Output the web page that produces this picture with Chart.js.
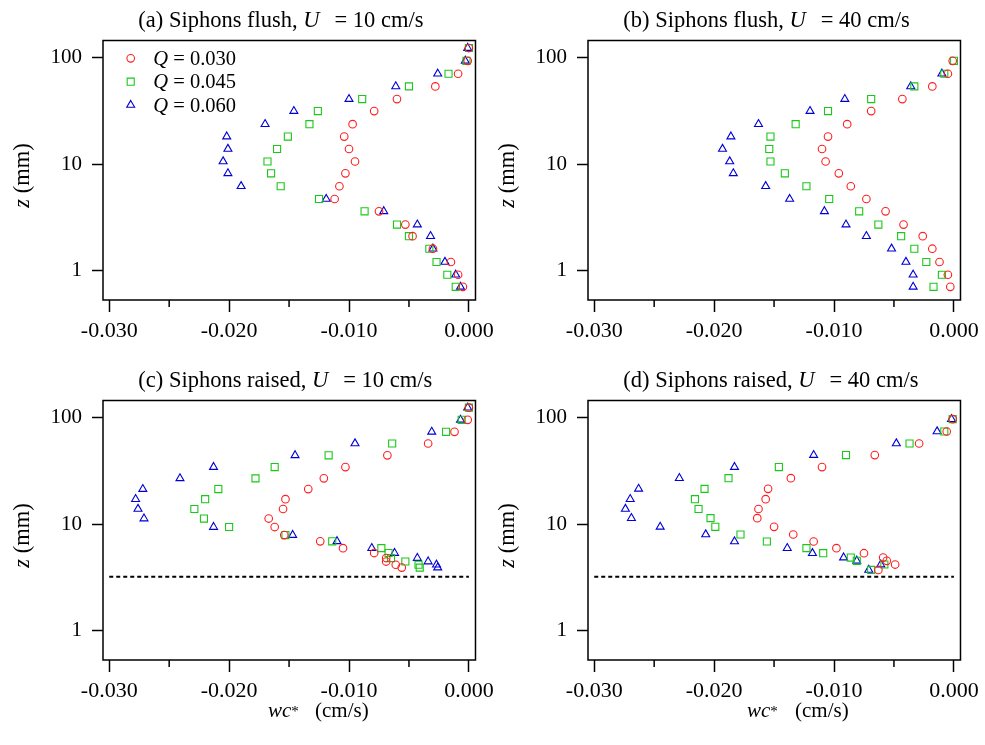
<!DOCTYPE html>
<html><head><meta charset="utf-8">
<script src="https://cdn.jsdelivr.net/npm/chart.js@4.4.1/dist/chart.umd.min.js"></script>
<style>
html,body{margin:0;padding:0;background:#fff;width:985px;height:745px;overflow:hidden}
canvas{position:absolute;display:block}
</style></head><body>
<canvas id="ca" width="500" height="360" style="left:0;top:0"></canvas>
<canvas id="cb" width="500" height="360" style="left:485px;top:0"></canvas>
<canvas id="cc" width="500" height="385" style="left:0;top:360px"></canvas>
<canvas id="cd" width="500" height="385" style="left:485px;top:360px"></canvas>
<script>
// ---------- data ----------
const qLabels = ['0.030', '0.045', '0.060'];
const xTickValues = [-0.030, -0.020, -0.010, 0.000];
const xTickLabels = ['-0.030', '-0.020', '-0.010', '0.000'];
const xMinorValues = [-0.025, -0.015, -0.005];
const yTickValues = [1, 10, 100];
const yTickLabels = ['1', '10', '100'];
const panelTitles = [
  ['(a) Siphons flush, ', 'U', '= 10 cm/s'],
  ['(b) Siphons flush, ', 'U', '= 40 cm/s'],
  ['(c) Siphons raised, ', 'U', '= 10 cm/s'],
  ['(d) Siphons raised, ', 'U', '= 40 cm/s']
];
const dashZ = 3.2;
const dashX = [-0.030, 0.000];

// (a) siphons flush, U = 10 cm/s
const zA = [124, 94, 71, 54, 41, 31.6, 23.8, 18.2, 13.9, 10.6, 8.2, 6.2, 4.7, 3.6, 2.7, 2.1, 1.6, 1.2, 0.91, 0.70];
const aQ030 = [0.0000, -0.0001, -0.0009, -0.0028, -0.0060, -0.0079, -0.0097, -0.0104, -0.0100, -0.0095, -0.0103, -0.0108, -0.0112, -0.0075, -0.0053, -0.0047, -0.0030, -0.0015, -0.0009, -0.0005];
const aQ045 = [0.0000, -0.0002, -0.0017, -0.0050, -0.0089, -0.0126, -0.0133, -0.0151, -0.0160, -0.0168, -0.0165, -0.0157, -0.0125, -0.0087, -0.0060, -0.0050, -0.0033, -0.0027, -0.0018, -0.0011];
const aQ060 = [-0.0001, -0.0003, -0.0026, -0.0061, -0.0100, -0.0146, -0.0170, -0.0202, -0.0201, -0.0205, -0.0201, -0.0190, -0.0119, -0.0071, -0.0043, -0.0032, -0.0030, -0.0020, -0.0011, -0.0007];

// (b) siphons flush, U = 40 cm/s
const zB = [94, 71, 54, 41, 31.6, 23.8, 18.2, 13.9, 10.6, 8.2, 6.2, 4.7, 3.6, 2.7, 2.1, 1.6, 1.2, 0.91, 0.70];
const bQ030 = [-0.0001, -0.0005, -0.0018, -0.0043, -0.0069, -0.0089, -0.0105, -0.0110, -0.0107, -0.0096, -0.0086, -0.0073, -0.0057, -0.0042, -0.0026, -0.0018, -0.0012, -0.0005, -0.0003];
const bQ045 = [0.0000, -0.0008, -0.0033, -0.0069, -0.0105, -0.0132, -0.0153, -0.0154, -0.0153, -0.0141, -0.0123, -0.0104, -0.0079, -0.0063, -0.0044, -0.0033, -0.0023, -0.0010, -0.0017];
const bQ060 = [null, -0.0010, -0.0036, -0.0091, -0.0120, -0.0163, -0.0186, -0.0193, -0.0187, -0.0184, -0.0157, -0.0137, -0.0108, -0.0090, -0.0073, -0.0052, -0.0040, -0.0034, -0.0034];

// (c) siphons raised, U = 10 cm/s
const zC = [125, 96, 74, 57.5, 44.5, 34.5, 27, 21.4, 17.2, 13.9, 11.3, 9.4, 7.9, 6.9, 5.95, 5.35, 4.8, 4.45, 4.15, 3.9];
const cQ030 = [0.0000, -0.0001, -0.0012, -0.0034, -0.0068, -0.0103, -0.0121, -0.0134, -0.0153, -0.0155, -0.0167, -0.0162, -0.0154, -0.0124, -0.0105, -0.0079, -0.0069, -0.0069, -0.0061, -0.0056];
const cQ045 = [0.0000, -0.0006, -0.0019, -0.0064, -0.0117, -0.0162, -0.0178, -0.0209, -0.0220, -0.0229, -0.0221, -0.0200, -0.0153, -0.0114, -0.0073, -0.0067, -0.0065, -0.0053, -0.0042, -0.0041];
const cQ060 = [-0.0001, -0.0007, -0.0031, -0.0095, -0.0145, -0.0213, -0.0241, -0.0272, -0.0278, -0.0276, -0.0271, -0.0213, -0.0147, -0.0110, -0.0081, -0.0062, -0.0043, -0.0034, -0.0027, -0.0026];

// (d) siphons raised, U = 40 cm/s
const zD = [97.5, 74.6, 57.5, 44.7, 34.5, 27.1, 21.5, 17.2, 13.9, 11.4, 9.44, 8.0, 6.87, 5.95, 5.33, 4.85, 4.52, 4.17, 3.71];
const dQ030 = [-0.0001, -0.0006, -0.0029, -0.0066, -0.0110, -0.0136, -0.0155, -0.0157, -0.0163, -0.0164, -0.0150, -0.0134, -0.0117, -0.0098, -0.0075, -0.0059, -0.0056, -0.0049, -0.0063];
const dQ045 = [-0.0001, -0.0008, -0.0037, -0.0090, -0.0146, -0.0188, -0.0208, -0.0216, -0.0213, -0.0203, -0.0199, -0.0178, -0.0156, -0.0123, -0.0109, -0.0086, -0.0081, -0.0058, -0.0069];
const dQ060 = [-0.0002, -0.0014, -0.0048, -0.0117, -0.0183, -0.0229, -0.0263, -0.0270, -0.0274, -0.0269, -0.0245, -0.0207, -0.0183, -0.0139, -0.0118, -0.0092, -0.0081, -0.0061, -0.0071];

// ---------- styling ----------
const FF = "'Liberation Serif', 'Times New Roman', serif";
const RED = 'rgb(255,30,30)', GREEN = 'rgb(25,200,25)', BLUE = 'rgb(0,0,215)';
const seriesStyle = [
  {pointStyle: 'circle', radius: 3.8, color: RED},
  {pointStyle: 'rect', radius: 5.0, color: GREEN},
  {pointStyle: 'triangle', radius: 4.6, color: BLUE}
];
const BOX = {left: 103, right: 480, top: 40.5, bottom: 300};

function pts(z, x) {
  const out = [];
  for (let i = 0; i < z.length; i++) if (x[i] !== null) out.push({x: x[i], y: z[i]});
  return out;
}

function rich(ctx, parts, x, y, size) {
  for (const p of parts) {
    ctx.font = (p.i ? 'italic ' : '') + (p.s || size) + 'px ' + FF;
    ctx.fillText(p.t, x, y + (p.dy || 0));
    x += ctx.measureText(p.t).width + (p.g || 0);
  }
  return x;
}
function richWidth(ctx, parts, size) {
  let w = 0;
  for (const p of parts) {
    ctx.font = (p.i ? 'italic ' : '') + (p.s || size) + 'px ' + FF;
    w += ctx.measureText(p.t).width + (p.g || 0);
  }
  return w;
}

function makeChart(id, idx, series, opts) {
  const canvas = document.getElementById(id);
  const W = canvas.width, H = canvas.height;
  const datasets = series.map((s, k) => ({
    label: 'Q = ' + qLabels[k],
    data: pts(s.z, s.x),
    pointStyle: seriesStyle[k].pointStyle,
    pointRadius: seriesStyle[k].radius,
    pointHoverRadius: seriesStyle[k].radius,
    pointBorderColor: seriesStyle[k].color,
    pointBackgroundColor: 'rgba(0,0,0,0)',
    pointBorderWidth: 1.1,
    showLine: false
  }));
  if (opts.dash) {
    datasets.push({
      data: [{x: dashX[0], y: dashZ}, {x: dashX[1], y: dashZ}],
      showLine: true, borderColor: '#000', borderWidth: 2, borderDash: [4, 3],
      pointRadius: 0, pointHoverRadius: 0, fill: false
    });
  }
  const deco = {
    id: 'deco' + idx,
    afterDraw(chart) {
      const ctx = chart.ctx, a = chart.chartArea;
      const xs = chart.scales.x;
      ctx.save();
      ctx.strokeStyle = '#000';
      ctx.lineWidth = 1.5;
      ctx.strokeRect(a.left, a.top, a.right - a.left, a.bottom - a.top);
      // minor ticks
      for (const v of xMinorValues) {
        const px = xs.getPixelForValue(v);
        ctx.beginPath(); ctx.moveTo(px, a.bottom); ctx.lineTo(px, a.bottom + 7); ctx.stroke();
      }
      ctx.fillStyle = '#000';
      ctx.textBaseline = 'alphabetic';
      ctx.textAlign = 'left';
      // title
      const t = panelTitles[idx];
      rich(ctx, [{t: t[0]}, {t: t[1], i: true, g: 15}, {t: t[2]}], 138.3, 26.7, 22.5);
      // y-axis title
      ctx.save();
      ctx.translate(28.5, 175.5);
      ctx.rotate(-Math.PI / 2);
      const yt = [{t: 'z', i: true}, {t: ' (mm)'}];
      rich(ctx, yt, -richWidth(ctx, yt, 22.5) / 2, 0, 22.5);
      ctx.restore();
      // x-axis title
      if (opts.xTitle) {
        rich(ctx, [{t: 'wc', i: true}, {t: '*', s: 15, dy: -1}], opts.xTitle[0], 356.7, 21);
        rich(ctx, [{t: '(cm/s)'}], opts.xTitle[1], 356.7, 21);
      }
      // legend
      if (opts.legend) {
        const ly = [58.3, 81.7, 105];
        for (let k = 0; k < 3; k++) {
          ctx.strokeStyle = seriesStyle[k].color;
          ctx.fillStyle = 'rgba(0,0,0,0)';
          ctx.lineWidth = 1.1;
          Chart.helpers.drawPoint(ctx, {pointStyle: seriesStyle[k].pointStyle, radius: seriesStyle[k].radius, borderWidth: 1.1, rotation: 0}, 130.7, ly[k]);
          ctx.fillStyle = '#000';
          rich(ctx, [{t: 'Q', i: true}, {t: ' = ' + qLabels[k]}], 153.3, ly[k] + 6.7, 20.5);
        }
      }
      ctx.restore();
    }
  };
  return new Chart(canvas, {
    type: 'scatter',
    data: {datasets},
    plugins: [deco],
    options: {
      responsive: false, animation: false, events: [],
      layout: {padding: {left: 0, top: BOX.top, right: W - BOX.right, bottom: H - BOX.bottom - 40}},
      plugins: {legend: {display: false}, tooltip: {enabled: false}, title: {display: false}},
      scales: {
        x: {
          type: 'linear', min: -0.03052, max: 0.00055,
          afterFit(s) { s.height = 40; },
          afterBuildTicks(s) { s.ticks = xTickValues.map(v => ({value: v})); },
          ticks: {callback: (v, i) => xTickLabels[i], font: {family: FF, size: 22}, color: '#000', padding: 6, maxRotation: 0, minRotation: 0, autoSkip: false},
          grid: {drawOnChartArea: false, drawTicks: true, tickLength: 12, tickWidth: 1.5, tickColor: '#000'},
          border: {display: false}
        },
        y: {
          type: 'logarithmic', min: 0.5265, max: 146,
          afterFit(s) { s.width = BOX.left; },
          afterBuildTicks(s) { s.ticks = yTickValues.map(v => ({value: v})); },
          ticks: {callback: (v, i) => yTickLabels[i], font: {family: FF, size: 21}, color: '#000', padding: 10, autoSkip: false},
          grid: {drawOnChartArea: false, drawTicks: true, tickLength: 11, tickWidth: 1.5, tickColor: '#000'},
          border: {display: false}
        }
      }
    }
  });
}

makeChart('ca', 0, [{z: zA, x: aQ030}, {z: zA, x: aQ045}, {z: zA, x: aQ060}], {legend: true});
makeChart('cb', 1, [{z: zB, x: bQ030}, {z: zB, x: bQ045}, {z: zB, x: bQ060}], {});
makeChart('cc', 2, [{z: zC, x: cQ030}, {z: zC, x: cQ045}, {z: zC, x: cQ060}], {dash: true, xTitle: [268, 315]});
makeChart('cd', 3, [{z: zD, x: dQ030}, {z: zD, x: dQ045}, {z: zD, x: dQ060}], {dash: true, xTitle: [262, 310]});
</script>
</body></html>
